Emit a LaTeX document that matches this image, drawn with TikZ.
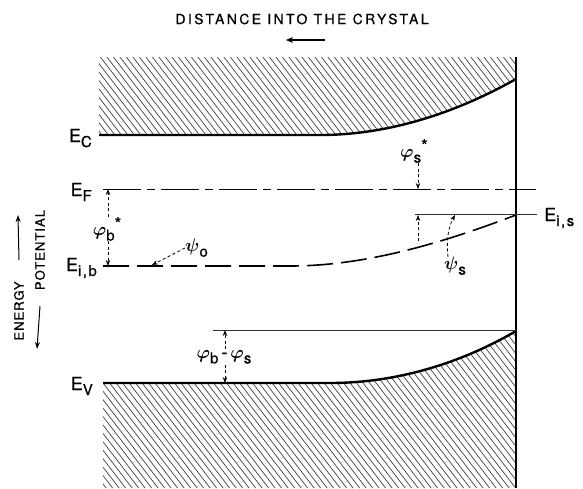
\RequirePackage{fix-cm}
\documentclass[tikz,border=0pt]{standalone}
\usepackage{amsmath}
\usepackage{fontspec}
\setmainfont{TeX Gyre Heros}
\usetikzlibrary{arrows.meta,positioning,calc}

\newcommand{\lo}[1]{\raisebox{-5pt}{\fontsize{15}{15}\selectfont\addfontfeature{LetterSpace=10}#1}}
\newcommand{\starup}{\raisebox{6pt}{\fontsize{17}{17}\selectfont *}}
\newcommand{\vphi}{$\boldsymbol{\varphi}$}
\newcommand{\vpsi}{$\boldsymbol{\psi}$}

\begin{document}
\begin{tikzpicture}[x=1pt,y=-1pt,
  band/.style={line width=2.4pt},
  wall/.style={line width=1.8pt},
  hatch/.style={line width=0.7pt,black!75},
  thinlevel/.style={line width=0.9pt,black!80},
  fermi/.style={line width=1pt,dash pattern=on 38pt off 6pt on 8pt off 6pt},
  intrinsic/.style={line width=1.6pt,dash pattern=on 26pt off 8pt},
  dimarrow/.style={line width=0.8pt,dash pattern=on 3pt off 2.5pt,-{Stealth[length=6pt,width=4.5pt]}},
  lbl/.style={font=\fontsize{18}{18}\selectfont\addfontfeature{FakeBold=0.6},inner sep=0pt},
  caps/.style={font=\fontsize{14}{14}\selectfont\addfontfeature{LetterSpace=17,FakeBold=0.6},inner sep=0pt},
  sidecaps/.style={font=\fontsize{13}{13}\selectfont\addfontfeature{LetterSpace=8,FakeBold=0.6},inner sep=0pt,rotate=90}]
  \useasboundingbox (0,0) rectangle (583,488);

  % hatched bands
  \begin{scope}
    \clip (99,57) -- (516,57) -- (516,79) .. controls (470,105) and (400,135) .. (320,135) -- (99,135) -- cycle;
    \foreach \i in {30,36.5,...,525} \draw[hatch] (\i,50) -- ++(120,156);
  \end{scope}
  \begin{scope}
    \clip (103,383) -- (330,383) .. controls (405,383) and (470,358) .. (516,331) -- (516,488) -- (103,488) -- cycle;
    \foreach \i in {-30,-23.5,...,525} \draw[hatch] (\i,320) -- ++(135,175);
  \end{scope}

  % band edges, surface
  \draw[band] (99,135) -- (320,135) .. controls (400,135) and (470,105) .. (516,79);
  \draw[band] (103,383) -- (330,383) .. controls (405,383) and (470,358) .. (516,331);
  \draw[wall] (516,57) -- (516,488);

  % levels
  \draw[fermi] (103,189) -- (536,189);
  \draw[intrinsic] (103,266) -- (290,266) .. controls (370,266) and (450,240) .. (516,215);
  \draw[thinlevel] (415,214) -- (537,214);
  \draw[thinlevel] (213,330) -- (516,330);

  % level names
  \node[lbl,anchor=base east] (Ec) at (92,142) {E\lo{C}};
  \node[lbl,anchor=base east] (Ef) at (92,196) {E\lo{F}};
  \node[lbl,anchor=base east] (Eib) at (97,271) {E\lo{i,b}};
  \node[lbl,anchor=base east] (Ev) at (93,390) {E\lo{V}};
  \node[lbl,anchor=base west] (Eis) at (544,221) {E\lo{i,s}};

  % axes
  \node[caps] (title) at (302,19) {DISTANCE INTO THE CRYSTAL};
  \coordinate (distfrom) at (325,40);
  \coordinate (distto) at (286,40);
  \draw[line width=1.6pt,-{Stealth[length=7pt,width=6pt]}] (distfrom) -- (distto);
  \node[sidecaps] (energy) at (19,311) {ENERGY};
  \node[sidecaps] (potential) at (40,250) {POTENTIAL};
  \coordinate (energyup) at (18,215);
  \coordinate (potdown) at (37,349);
  \draw[line width=1pt,-{Stealth[length=7pt,width=5pt]}] (energy.east |- 0,260) -- (energyup);
  \draw[line width=1pt,-{Stealth[length=7pt,width=5pt]}] (potential.west |- 0,306) -- (potdown);

  % potentials
  \node[lbl] (phib) at (107,229) {\vphi\lo{b}\starup};
  \coordinate (phibtop) at (108,189);
  \coordinate (phibbot) at (108,266);
  \draw[dimarrow] (phibtop |- phib.north) -- (phibtop);
  \draw[dimarrow] (phibbot |- phib.south) -- (phibbot);

  \node[lbl] (phis) at (414,151) {\vphi\lo{s}\starup};
  \coordinate (phistip) at (418,189);
  \draw[dimarrow] (phistip |- phis.south) -- (phistip);

  \node[lbl,anchor=west] (psio) at (185,248) {\vpsi\lo{o}};
  \coordinate (psiotip) at (152,265);
  \draw[dimarrow] (psio.west) -- (psiotip);

  \coordinate (bendtail) at (418,241);
  \coordinate (bendtip) at (418,215);
  \draw[dimarrow] (bendtail) -- (bendtip);

  \node[lbl] (psis) at (455,266) {\vpsi\lo{s}};
  \coordinate (psistip) at (455,215);
  \draw[dimarrow] (psis.north) ++(-7,0) .. controls (446,238) and (449,226) .. (psistip);

  \node[lbl,fill=white,inner ysep=1pt] (phibs) at (224,357) {\vphi\lo{b}\,-\,\vphi\lo{s}};
  \coordinate (phibstop) at (225,330);
  \coordinate (phibsbot) at (225,383);
  \draw[dimarrow] (phibstop |- phibs.north) -- (phibstop);
  \draw[dimarrow] (phibsbot |- phibs.south) -- (phibsbot);
\end{tikzpicture}
\end{document}
